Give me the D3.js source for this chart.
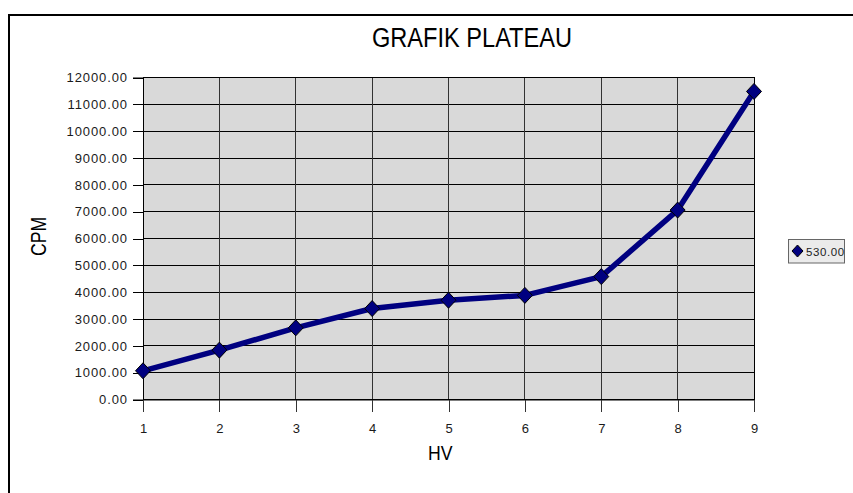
<!DOCTYPE html>
<html>
<head>
<meta charset="utf-8">
<script src="https://cdn.jsdelivr.net/npm/d3@7"></script>
<style>
  html, body { margin: 0; padding: 0; background: #fff; }
  svg { display: block; font-family: "Liberation Sans", Arial, sans-serif; }
</style>
</head>
<body>
<script>
const categories = [1, 2, 3, 4, 5, 6, 7, 8, 9];
const cpmValues = [1070, 1840, 2670, 3390, 3700, 3880, 4580, 7060, 11480];
const yTicks = [0, 1000, 2000, 3000, 4000, 5000, 6000, 7000, 8000, 9000, 10000, 11000, 12000];
const seriesName = "530.00";
const titleText = "GRAFIK PLATEAU";
const xTitle = "HV";
const yTitle = "CPM";

const W = 853, H = 493;
const plot = { left: 143, top: 77.5, right: 754, bottom: 399.5 };

const svg = d3.select("body").append("svg").attr("width", W).attr("height", H);

// outer chart frame (only left and top visible)
svg.append("path")
  .attr("d", `M9,${H + 5} L9,15 L${W + 5},15`)
  .attr("fill", "none").attr("stroke", "#000").attr("stroke-width", 2);

const x = d3.scalePoint().domain(categories).range([plot.left, plot.right]);
const y = d3.scaleLinear().domain([0, 12000]).range([plot.bottom, plot.top]);

// plot background
svg.append("rect")
  .attr("x", plot.left).attr("y", plot.top)
  .attr("width", plot.right - plot.left).attr("height", plot.bottom - plot.top)
  .attr("fill", "#d9d9d9");

// gridlines
const grid = svg.append("g").attr("stroke", "#000").attr("stroke-width", 1).attr("shape-rendering", "crispEdges");
grid.selectAll("line.h").data(yTicks).join("line")
  .attr("x1", plot.left).attr("x2", plot.right)
  .attr("y1", d => y(d)).attr("y2", d => y(d));
grid.selectAll("line.v").data(categories).join("line")
  .attr("x1", d => x(d)).attr("x2", d => x(d))
  .attr("y1", plot.top).attr("y2", plot.bottom)
  .attr("stroke", "#333");

// plot border
svg.append("rect")
  .attr("x", plot.left).attr("y", plot.top)
  .attr("width", plot.right - plot.left).attr("height", plot.bottom - plot.top)
  .attr("fill", "none").attr("stroke", "#000").attr("stroke-width", 1)
  .attr("shape-rendering", "crispEdges");

// axes
const yAxis = d3.axisLeft(y).tickValues(yTicks).tickSize(10).tickPadding(5)
  .tickFormat(d => d3.format(".2f")(d));
const gy = svg.append("g").attr("transform", `translate(${plot.left},0)`).call(yAxis);
gy.select(".domain").attr("stroke", "#000");
gy.selectAll(".tick line").attr("stroke", "#000").attr("shape-rendering", "crispEdges");
gy.selectAll(".tick text")
  .attr("font-size", 13).attr("letter-spacing", 0.9).attr("fill", "#1a1a1a")
  .attr("font-family", "Liberation Sans, Arial, sans-serif");

const xAxis = d3.axisBottom(x).tickSize(12).tickPadding(12).tickSizeOuter(0);
const gx = svg.append("g").attr("transform", `translate(0,${plot.bottom})`).call(xAxis);
gx.select(".domain").attr("stroke", "#000");
gx.selectAll(".tick line").attr("stroke", "#333").attr("shape-rendering", "crispEdges");
gx.selectAll(".tick text")
  .attr("font-size", 13).attr("fill", "#1a1a1a")
  .attr("font-family", "Liberation Sans, Arial, sans-serif");

// series line
const line = d3.line().x((d, i) => x(categories[i])).y(d => y(d));
svg.append("path")
  .datum(cpmValues)
  .attr("d", line)
  .attr("fill", "none").attr("stroke", "#000080").attr("stroke-width", 5.5)
  .attr("stroke-linejoin", "round");

// diamond marker path generator
function diamondPath(rx, ry) {
  const p = d3.path();
  p.moveTo(0, -ry); p.lineTo(rx, 0); p.lineTo(0, ry); p.lineTo(-rx, 0); p.closePath();
  return p.toString();
}

// markers
svg.append("g").selectAll("path").data(cpmValues).join("path")
  .attr("transform", (d, i) => `translate(${x(categories[i])},${y(d)})`)
  .attr("d", diamondPath(7.5, 8))
  .attr("fill", "#000080").attr("stroke", "#000").attr("stroke-width", 1);

// title
svg.append("text")
  .attr("x", 372).attr("y", 47)
  .attr("font-size", 27).attr("fill", "#000")
  .attr("textLength", 200).attr("lengthAdjust", "spacingAndGlyphs")
  .text(titleText);

// x title
svg.append("text")
  .attr("x", 428).attr("y", 460)
  .attr("font-size", 20.5).attr("fill", "#000")
  .attr("textLength", 24.5).attr("lengthAdjust", "spacingAndGlyphs")
  .text(xTitle);

// y title
svg.append("text")
  .attr("transform", "translate(45.5,256) rotate(-90)")
  .attr("font-size", 22).attr("fill", "#000")
  .attr("textLength", 39).attr("lengthAdjust", "spacingAndGlyphs")
  .text(yTitle);

// legend
const lg = svg.append("g");
lg.append("rect")
  .attr("x", 788.5).attr("y", 239.5).attr("width", 56).attr("height", 23.5)
  .attr("fill", "#ebebeb").attr("stroke", "#666").attr("stroke-width", 1);
lg.append("path")
  .attr("transform", "translate(797.5,251)")
  .attr("d", diamondPath(5.5, 6))
  .attr("fill", "#000080").attr("stroke", "#000").attr("stroke-width", 1);
lg.append("text")
  .attr("x", 806).attr("y", 255.5)
  .attr("font-size", 11.5).attr("letter-spacing", 0.6).attr("fill", "#222")
  .text(seriesName);
</script>
</body>
</html>
